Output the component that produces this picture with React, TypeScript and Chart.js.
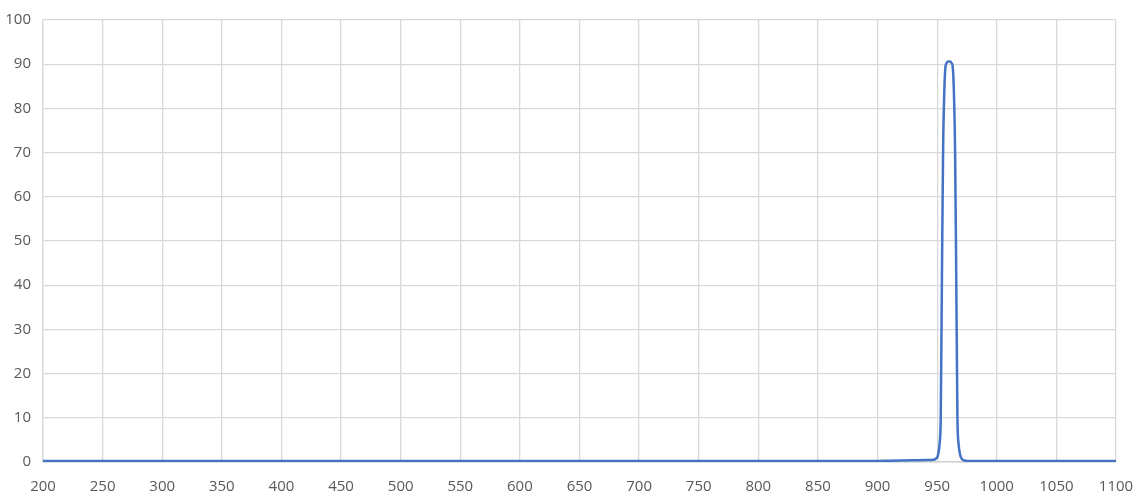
import React, { useEffect, useRef } from "react";
import { Chart, registerables } from "chart.js";

Chart.register(...registerables);

// Wavelength (nm)
const wavelength = [
  200, 250, 300, 350, 400, 450, 500, 550, 600, 650, 700, 750, 800, 850, 900,
  910, 920, 930, 940, 945, 946, 947, 948, 949, 950, 951, 952, 953, 954, 955,
  956, 957, 958, 959, 960, 961, 962, 963, 964, 965, 966, 967, 968, 969, 970,
  971, 972, 973, 974, 975, 980, 1000, 1050, 1100,
];

// Transmission (%)
const transmission = [
  0.2, 0.2, 0.2, 0.2, 0.2, 0.2, 0.2, 0.2, 0.2, 0.2, 0.2, 0.2, 0.2, 0.2, 0.25,
  0.3, 0.35, 0.4, 0.45, 0.45, 0.5, 0.5, 0.6, 0.8, 1.0, 2.0, 4.0, 10, 42, 71,
  84, 89.5, 90.3, 90.6, 90.6, 90.6, 90.3, 89.5, 84, 71, 42, 10, 4, 2, 1.0,
  0.6, 0.45, 0.35, 0.3, 0.25, 0.2, 0.2, 0.2, 0.2,
];

const xTicks = { min: 200, max: 1100, step: 50 };
const yTicks = { min: 0, max: 100, step: 10 };

export default function App() {
  const ref = useRef<HTMLCanvasElement | null>(null);

  useEffect(() => {
    document.body.style.margin = "0";
    if (!ref.current) return;
    const points = wavelength.map((x, i) => ({ x, y: transmission[i] }));
    const chart = new Chart(ref.current, {
      type: "line",
      data: {
        datasets: [
          {
            data: points,
            borderColor: "#4472C4",
            borderWidth: 2.5,
            pointRadius: 0,
            fill: false,
            cubicInterpolationMode: "monotone",
          },
        ],
      },
      options: {
        animation: false,
        responsive: false,
        devicePixelRatio: 1,
        layout: { padding: { top: 20, right: 0, left: 0, bottom: 0 } },
        plugins: { legend: { display: false }, tooltip: { enabled: false } },
        scales: {
          x: {
            type: "linear",
            min: xTicks.min,
            max: xTicks.max,
            afterFit: (s: any) => {
              s.height = 38;
              s.paddingRight = 20;
              s.paddingLeft = 0;
            },
            ticks: {
              stepSize: xTicks.step,
              padding: 16,
              color: "#595959",
              font: { family: "Open Sans", size: 15 },
              maxRotation: 0,
              autoSkip: false,
              callback: (v: any) => String(v),
            },
            grid: { color: "#d9d9d9", lineWidth: 1.3, drawTicks: false },
            border: { color: "#d0d0d0", width: 1.5 },
          },
          y: {
            min: yTicks.min,
            max: yTicks.max,
            afterFit: (s: any) => {
              s.width = 43;
              s.paddingTop = 0;
              s.paddingBottom = 0;
            },
            ticks: {
              stepSize: yTicks.step,
              padding: 12,
              color: "#595959",
              font: { family: "Open Sans", size: 15 },
              callback: (v: any) => String(v),
            },
            grid: { color: "#d9d9d9", lineWidth: 1.3, drawTicks: false },
            border: { color: "#d9d9d9", width: 1.3 },
          },
        },
      },
    });
    return () => chart.destroy();
  }, []);

  return (
    <div style={{ width: 1136, height: 500 }}>
      <canvas ref={ref} width={1136} height={500} />
    </div>
  );
}
